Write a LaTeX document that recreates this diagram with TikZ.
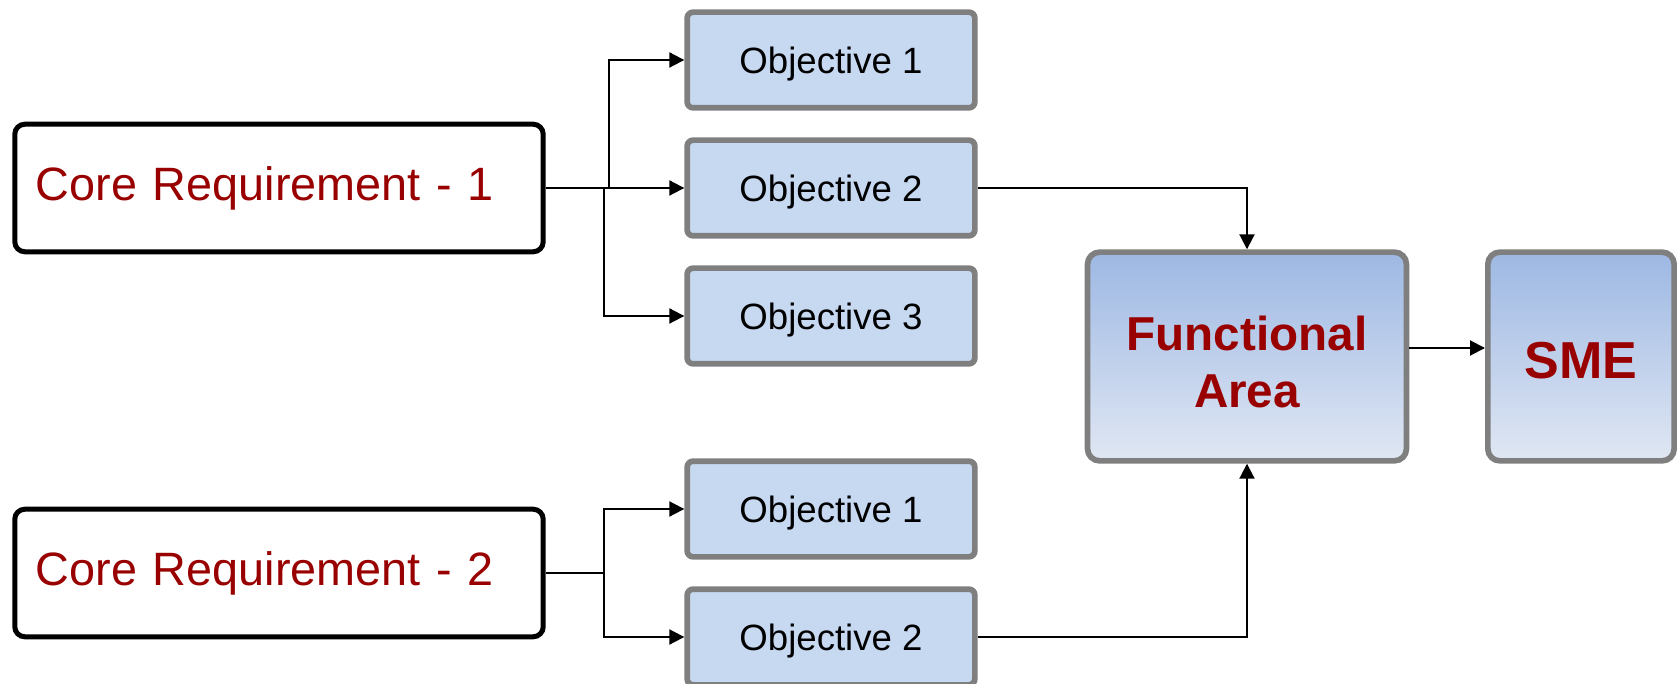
\documentclass[tikz,border=0pt]{standalone}
\usepackage{fontspec}
\setmainfont{Liberation Sans}
\usetikzlibrary{arrows.meta}
\definecolor{objfill}{HTML}{C6D9F1}
\definecolor{bordergray}{HTML}{7F7F7F}
\definecolor{darkred}{RGB}{153,0,0}
\definecolor{shtop}{RGB}{157,184,227}
\definecolor{shbot}{RGB}{224,231,243}
\newcommand{\myshiftdown}[2]{\raisebox{-#1}[\height][\depth]{#2}}
\begin{document}
\begin{tikzpicture}[x=0.5pt,y=-0.5pt,
  objbox/.style={draw=bordergray, line width=2.85pt, fill=objfill, rounded corners=3pt,
    minimum width=143.85pt, minimum height=47.85pt, inner sep=0pt, text depth=0pt,
    font=\fontsize{18.3}{21}\selectfont},
  corebox/.style={draw=black, line width=2.5pt, rounded corners=5pt, text width=243.2pt,
    inner xsep=10.5pt, inner ysep=0pt, minimum height=63.8pt, align=left, text=darkred,
    font=\fontsize{23.4}{28}\selectfont},
  bigbox/.style={draw=bordergray, line width=2.85pt, rounded corners=6pt,
    top color=shtop, bottom color=shbot, text=darkred, align=center,
    minimum width=159.45pt, minimum height=104.35pt, inner sep=0pt,
    font=\bfseries\fontsize{23.8}{28.5}\selectfont},
  conn/.style={draw=black, line width=1pt, -{Triangle[length=7.5pt,width=7.5pt]}},
  plain/.style={draw=black, line width=1pt}
]
\useasboundingbox (0,0) rectangle (1677,684);

\node[corebox] (cr1) at (279,188) {Core Requirement - 1};
\node[corebox] (cr2) at (279,573) {Core Requirement - 2};

\node[objbox] (o11) at (831,60) {Objective 1};
\node[objbox] (o12) at (831,188) {Objective 2};
\node[objbox] (o13) at (831,316) {Objective 3};
\node[objbox] (o21) at (831,509) {Objective 1};
\node[objbox] (o22) at (831,637) {Objective 2};

\node[bigbox] (fa) at (1247,356.5)
  {\myshiftdown{5.4pt}{\begin{tabular}{@{}c@{}}Functional\\Area\end{tabular}}};
\node[bigbox, minimum width=93.15pt, font=\bfseries\fontsize{26}{30}\selectfont] (sme)
  at (1581,356.5) {\myshiftdown{2.2pt}{SME}};

\coordinate (j1) at (609,188);
\coordinate (j2) at (604,188);
\coordinate (j3) at (604,573);
\coordinate (ya) at (0,348);

\draw[conn] (cr1.east) -- (o12.west);
\draw[conn] (j1) |- (o11.west);
\draw[conn] (j2) |- (o13.west);
\draw[plain] (cr2.east) -- (j3);
\draw[conn] (j3) |- (o21.west);
\draw[conn] (j3) |- (o22.west);
\draw[conn] (o12.east) -| (fa.north);
\draw[conn] (o22.east) -| (fa.south);
\draw[conn] (ya -| fa.east) -- (ya -| sme.west);
\end{tikzpicture}
\end{document}
